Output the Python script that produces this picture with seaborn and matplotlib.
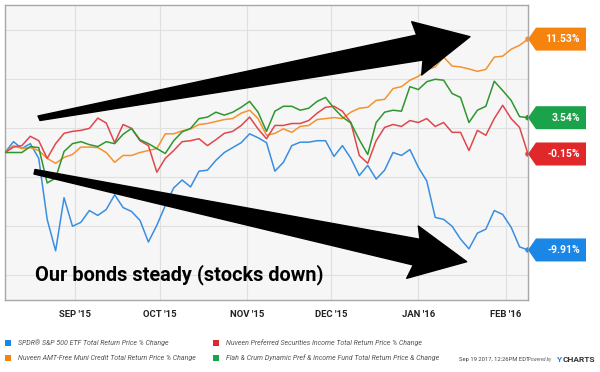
import pandas as pd
import numpy as np
import matplotlib
matplotlib.use("Agg")
import matplotlib.pyplot as plt
from matplotlib.patches import Polygon, Rectangle
from matplotlib.transforms import IdentityTransform
import seaborn as sns

# % change, sampled every 3 days from 2015-08-07 to 2016-02-09
dates = pd.date_range("2015-08-07", "2016-02-09", freq="3D")

spy = [0.0, 1.1, 0.4, 0.9, -0.6, -6.8, -10.0, -4.6, -7.5, -7.1,
       -5.9, -6.4, -5.8, -4.3, -5.6, -6.0, -6.9, -9.1, -7.4, -5.4,
       -3.6, -2.8, -3.5, -1.9, -1.8, -0.8, 0.0, 0.5, 1.0, 1.9,
       1.5, 1.0, -1.9, -1.0, 0.7, 1.05, 1.05, 1.2, 1.2, -0.4,
       0.7, -0.6, -2.35, -1.3, -2.7, -1.8, 0.0, -0.3, 0.3, -1.5,
       -2.9, -6.6, -6.8, -7.5, -8.8, -9.8, -8.2, -7.8, -5.9, -6.3,
       -7.6, -9.6, -9.91]
muni = [0.0, 0.7, 0.4, 0.5, 0.2, -0.6, -1.1, -0.5, -0.2, 0.55,
        0.55, 0.5, 0.0, -1.0, -0.3, -0.3, 0.0, 0.2, 0.4, 1.9,
        1.9, 2.2, 2.4, 2.85, 2.95, 3.15, 3.35, 3.45, 4.0, 4.3,
        3.45, 1.75, 1.95, 2.4, 2.05, 2.65, 2.75, 3.35, 3.45, 3.55,
        3.45, 4.1, 4.5, 4.6, 5.3, 5.4, 6.5, 6.7, 7.35, 7.75,
        8.4, 8.7, 9.7, 8.8, 8.7, 8.5, 8.25, 8.45, 9.7, 9.8,
        10.5, 10.9, 11.53]
pref = [0.0, 0.55, 0.7, 1.65, 1.2, -0.6, 0.9, 1.95, 2.15, 2.25,
        2.45, 3.5, 3.0, 1.0, 2.85, 2.45, 1.2, 0.7, -2.0, -0.6,
        0.2, 1.1, 1.2, 1.4, 0.7, 1.3, 1.95, 2.15, 2.75, 3.6,
        2.4, 1.4, 2.75, 2.75, 2.95, 2.95, 3.25, 4.0, 4.6, 4.7,
        4.2, 3.05, -0.3, -1.1, 1.2, 2.55, 2.85, 2.65, 3.25, 3.05,
        3.45, 2.65, 3.05, 2.05, 2.05, 0.2, 2.25, 1.75, 3.45, 4.8,
        3.45, 2.55, -0.15]
flah = [0.0, 0.0, 0.0, 0.6, 0.5, -3.1, -2.6, 0.1, 0.9, 1.1,
        0.8, 0.6, 1.1, 0.9, 1.85, 2.45, 1.3, 0.9, 0.4, -0.1,
        1.2, 2.1, 2.45, 3.45, 3.6, 4.1, 3.8, 4.1, 4.6, 5.2,
        4.1, 2.15, 4.2, 4.7, 4.7, 4.3, 4.5, 5.2, 5.6, 4.5,
        3.6, 3.0, 1.3, -0.2, 3.05, 4.1, 4.3, 4.2, 6.7, 6.4,
        7.2, 7.45, 7.35, 6.0, 5.6, 3.05, 4.3, 4.7, 7.25, 6.3,
        5.3, 3.65, 3.54]

names = ["SPDR\u00ae S&P 500 ETF Total Return Price % Change",
         "Nuveen AMT-Free Muni Credit Total Return Price % Change",
         "Nuveen Preferred Securities Income Total Return Price % Change",
         "Flah & Crum Dynamic Pref & Income Fund Total Return Price & Change"]
line_colors = ["#3a8ee0", "#f5922f", "#e0474c", "#2f962f"]
flag_colors = ["#1a86e6", "#f7830f", "#e0282a", "#1aa34a"]
month_ticks = ["2015-09-01", "2015-10-01", "2015-11-01", "2015-12-01", "2016-01-01", "2016-02-01"]
month_labels = ["SEP '15", "OCT '15", "NOV '15", "DEC '15", "JAN '16", "FEB '16"]
grid_levels = [-12.5, -7.5, -2.5, 2.5, 7.5, 12.5]
headline = "Our bonds steady (stocks down)"
stamp = "Sep 19 2017, 12:26PM EDT"

W, H = 600, 372
FONT = ["Roboto", "DejaVu Sans"]
PX = IdentityTransform()


def px(x, y):
    # top-left pixel coords -> display coords
    return (x, H - y)


sns.set_style("white")
fig = plt.figure(figsize=(W / 100, H / 100), dpi=100)
ax = fig.add_axes([5 / W, 1 - 300 / H, 523 / W, 295 / H])
ax.set_facecolor("#f6f6f6")

series = [spy, muni, pref, flah]
df = pd.concat([pd.DataFrame({"date": dates, "value": v, "series": n})
                for v, n in zip(series, names)], ignore_index=True)
sns.lineplot(data=df, x="date", y="value", hue="series", hue_order=names,
             palette=line_colors, legend=False, linewidth=1.1, ax=ax, zorder=3)
last = df.groupby("series", sort=False).tail(1)
ax.scatter(last["date"], last["value"], c=line_colors, s=9, zorder=4)

ax.set_xlim(dates[0], dates[-1])
ax.set_ylim(-15, 15)
ax.set_yticks(grid_levels)
ax.set_yticklabels([])
ax.set_xticks(pd.to_datetime(month_ticks))
ax.set_xticklabels(month_labels, fontsize=6.8, fontweight="bold", color="#222222", family=FONT)
ax.tick_params(length=0, pad=7)
ax.grid(True, color="#e0e0e0", linewidth=0.8)
ax.set_xlabel("")
ax.set_ylabel("")
for s in ax.spines.values():
    s.set_color("#a8a8a8")
    s.set_linewidth(1.0)

# end-value flags
for v, col in zip(series, flag_colors):
    x0, y0 = ax.transData.transform((matplotlib.dates.date2num(dates[-1]), v[-1]))
    h = 11.5
    verts = [(x0, y0), (x0 + 8, y0 + h), (x0 + 58, y0 + h), (x0 + 58, y0 - h), (x0 + 8, y0 - h)]
    fig.add_artist(Polygon(verts, closed=True, facecolor=col, edgecolor="none", transform=PX))
    fig.text(x0 + 52, y0, "%.2f%%" % v[-1], transform=PX, ha="right", va="center",
             color="white", fontsize=7.5, fontweight="bold", family=FONT)

# big annotation arrows
up_arrow = [(38, 116), (416.7, 35), (411.7, 21.7), (470, 36.7), (421.7, 75), (423, 60), (40, 120.5)]
down_arrow = [(35, 169.5), (420, 239.3), (418.3, 226), (466.7, 261.7), (406.7, 278.3), (413.3, 265), (34, 174)]
for shape in [up_arrow, down_arrow]:
    fig.add_artist(Polygon([px(x, y) for x, y in shape], closed=True, facecolor="black",
                           edgecolor="black", linewidth=1, joinstyle="round", transform=PX, zorder=5))

fig.text(*px(35, 275), headline, transform=PX, ha="left", va="center", fontsize=14.3,
         fontweight="bold", color="black", family=FONT, zorder=6)

# legend
leg_pos = [(8, 343), (8, 358), (215.5, 343), (215.5, 358)]
for (lx, ly), n, col in zip(leg_pos, names, flag_colors):
    fig.add_artist(Rectangle(px(lx - 3, ly + 3), 6, 6, facecolor=col, edgecolor="none", transform=PX))
    fig.text(*px(lx + 10, ly), n, transform=PX, ha="left", va="center", fontsize=5.0,
             style="italic", color="#555555", family=FONT)

fig.text(*px(459, 359), stamp, transform=PX, ha="left", va="center", fontsize=4.2,
         color="#444444", family=FONT)
fig.text(*px(528, 359), "Powered by", transform=PX, ha="left", va="center", fontsize=3.3,
         style="italic", color="#666666", family=FONT)
fig.text(*px(557, 359), "Y", transform=PX, ha="left", va="center", fontsize=6,
         fontweight="bold", color="#1a86e6", family=FONT)
fig.text(*px(595, 359), "CHARTS", transform=PX, ha="right", va="center", fontsize=6,
         fontweight="bold", color="#333333", family=FONT)

fig.savefig("out.png", dpi=100)
